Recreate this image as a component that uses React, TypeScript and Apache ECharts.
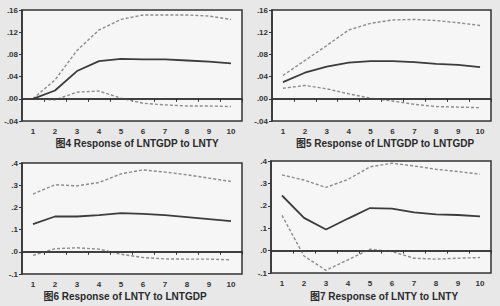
import React, { useEffect, useRef } from "react";
import * as echarts from "echarts";

const periods = ["1", "2", "3", "4", "5", "6", "7", "8", "9", "10"];

const titles = [
  "图4 Response of LNTGDP to LNTY",
  "图5 Response of LNTGDP to LNTGDP",
  "图6 Response of LNTY to LNTGDP",
  "图7 Response of LNTY to LNTY",
];

// Panel 1: LNTGDP to LNTY
const p1Resp = [0, 0.015, 0.05, 0.068, 0.072, 0.071, 0.071, 0.069, 0.067, 0.064];
const p1Upper = [0, 0.034, 0.087, 0.124, 0.143, 0.151, 0.151, 0.151, 0.149, 0.143];
const p1Lower = [0, -0.002, 0.012, 0.014, 0.001, -0.008, -0.011, -0.013, -0.013, -0.014];

// Panel 2: LNTGDP to LNTGDP
const p2Resp = [0.03, 0.047, 0.058, 0.065, 0.068, 0.068, 0.066, 0.063, 0.061, 0.057];
const p2Upper = [0.042, 0.069, 0.096, 0.124, 0.136, 0.142, 0.143, 0.141, 0.137, 0.132];
const p2Lower = [0.019, 0.024, 0.018, 0.009, 0.001, -0.004, -0.01, -0.014, -0.015, -0.016];

// Panel 3: LNTY to LNTGDP
const p3Resp = [0.125, 0.159, 0.159, 0.165, 0.174, 0.171, 0.165, 0.156, 0.147, 0.138];
const p3Upper = [0.26, 0.302, 0.297, 0.312, 0.351, 0.369, 0.359, 0.347, 0.332, 0.317];
const p3Lower = [-0.016, 0.014, 0.018, 0.012, -0.011, -0.026, -0.032, -0.033, -0.033, -0.036];

// Panel 4: LNTY to LNTY
const p4Resp = [0.246, 0.146, 0.094, 0.143, 0.19, 0.187, 0.171, 0.162, 0.159, 0.153];
const p4Upper = [0.338, 0.315, 0.282, 0.318, 0.374, 0.39, 0.378, 0.363, 0.353, 0.341];
const p4Lower = [0.157, -0.024, -0.088, -0.041, 0.006, -0.004, -0.034, -0.038, -0.034, -0.031];

const yRanges = [
  { min: -0.04, max: 0.16, interval: 0.04, dec: 2 },
  { min: -0.04, max: 0.16, interval: 0.04, dec: 2 },
  { min: -0.1, max: 0.4, interval: 0.1, dec: 1 },
  { min: -0.1, max: 0.4, interval: 0.1, dec: 1 },
];

const panelData = [
  [p1Resp, p1Upper, p1Lower],
  [p2Resp, p2Upper, p2Lower],
  [p3Resp, p3Upper, p3Lower],
  [p4Resp, p4Upper, p4Lower],
];

const gridPos = [
  { left: 22, top: 10, width: 220, height: 111 },
  { left: 272, top: 10, width: 219, height: 111 },
  { left: 22, top: 163, width: 220, height: 111 },
  { left: 271, top: 161, width: 220, height: 112 },
];

const titlePos = [
  { x: 137, y: 143 },
  { x: 385, y: 143 },
  { x: 125, y: 296 },
  { x: 384, y: 296 },
];

export default function App() {
  const ref = useRef<HTMLDivElement>(null);
  useEffect(() => {
    if (!ref.current) return;
    const chart = echarts.init(ref.current, undefined, { renderer: "svg" });
    const fmt = (dec: number) => (v: number) => {
      const s = v.toFixed(dec);
      return s.replace("0.", ".");
    };
    const series: any[] = [];
    panelData.forEach((arr, i) => {
      arr.forEach((d, k) => {
        series.push({
          type: "line",
          xAxisIndex: i,
          yAxisIndex: i,
          data: d,
          symbol: "none",
          z: k === 0 ? 4 : 3,
          lineStyle:
            k === 0
              ? { color: "#3c3c3c", width: 1.8 }
              : { color: "#8c8c8c", width: 1.4, type: [3, 2] },
          markLine:
            k === 0
              ? {
                  silent: true,
                  symbol: "none",
                  label: { show: false },
                  lineStyle: { color: "#333", width: 1.5, type: "solid" },
                  data: [{ yAxis: 0 }],
                }
              : undefined,
        });
      });
    });
    chart.setOption({
      animation: false,
      backgroundColor: "#e8e8e8",
      grid: gridPos.map((g) => ({
        ...g,
        show: true,
        backgroundColor: "#f6f6f6",
        borderColor: "#333",
        borderWidth: 1.5,
      })),
      xAxis: gridPos.map((_, i) => ({
        type: "category",
        gridIndex: i,
        data: periods,
        boundaryGap: true,
        axisLine: { show: true, lineStyle: { color: "#333", width: 1.5 } },
        axisTick: { show: true, length: 3, lineStyle: { color: "#333" } },
        axisLabel: {
          color: "#333",
          fontSize: 8,
          fontWeight: "bold",
          fontFamily: "Liberation Sans, Arial",
          margin: 6,
        },
        splitLine: { show: false },
      })),
      yAxis: yRanges.map((r, i) => ({
        type: "value",
        gridIndex: i,
        min: r.min,
        max: r.max,
        interval: r.interval,
        axisLine: { show: true, lineStyle: { color: "#333", width: 1.5 } },
        axisTick: { show: true, length: 3, lineStyle: { color: "#333" } },
        axisLabel: {
          color: "#333",
          fontSize: 8,
          fontWeight: "bold",
          fontFamily: "Liberation Sans, Arial",
          margin: 4,
          formatter: fmt(r.dec),
        },
        splitLine: { show: false },
      })),
      graphic: titles.map((t, i) => ({
        type: "text",
        x: titlePos[i].x,
        y: titlePos[i].y,
        style: {
          text: t,
          fill: "#2a2a2a",
          font: "bold 10px 'Liberation Sans', Arial, 'Noto Sans CJK SC'",
          align: "center",
          verticalAlign: "middle",
        },
      })),
      series,
    });
    return () => chart.dispose();
  }, []);
  return (
    <div
      ref={ref}
      style={{ position: "fixed", left: 0, top: 0, width: 500, height: 306 }}
    />
  );
}
